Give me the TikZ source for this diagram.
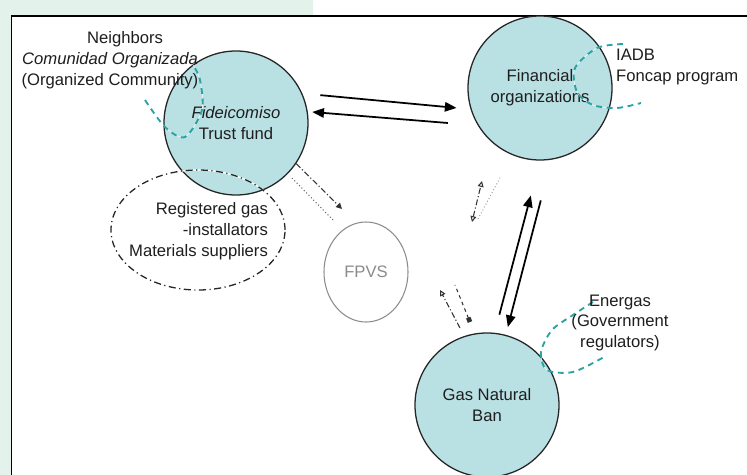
\documentclass[tikz,border=0pt]{standalone}
\usepackage{fontspec}
\setmainfont{Liberation Sans}
\usetikzlibrary{arrows.meta}
\usetikzlibrary{shapes.geometric}

\definecolor{fundfill}{HTML}{B9E0E3}
\definecolor{loopteal}{HTML}{2BA3A3}
\definecolor{mint}{HTML}{E3F3EC}
\definecolor{inkgray}{HTML}{1E1E1E}

\begin{document}
\begin{tikzpicture}[x=0.03cm, y=-0.03cm,
    every node/.style={font=\fontsize{14.2pt}{17.9pt}\selectfont, text=inkgray},
    actor/.style={circle, draw=black!85, line width=1.1pt, fill=fundfill, minimum size=4.32cm, align=center, inner sep=0pt},
    flow/.style={line width=1.5pt, -{Triangle[length=10pt,width=8pt]}},
    faint/.style={black!80, line width=0.9pt, dash pattern=on 5pt off 2pt on 1pt off 2pt},
    loop/.style={loopteal, line width=1.6pt, dash pattern=on 5pt off 4pt, preaction={draw=white, solid}}
]
        \useasboundingbox (0,0) rectangle (747,475);
        \fill[white] (0,0) rectangle (747,475);
        \fill[mint] (0,0) rectangle (313,15) (0,15) rectangle (11,475);
        \draw[line width=1.7pt] (11.5,475) -- (11.5,16) -- (747,16);

        % Nodes
        \node[actor] (trust) at (236,123) {\textit{Fideicomiso}\\Trust fund};
        \node[actor] (fin) at (540,88) {Financial\\organizations};
        \node[actor] (gas) at (487,405) {Gas Natural\\Ban};
        \node[ellipse, draw=black!45, line width=0.9pt, minimum width=2.52cm, minimum height=3cm, text=black!45] (fpvs) at (366,272) {FPVS};
        \node[ellipse, draw=black!85, line width=1.1pt, minimum width=5.22cm, minimum height=3.6cm,
              dash pattern=on 6pt off 3pt on 1pt off 3pt, preaction={draw=white, solid}] (suppl) at (198,230) {};

        % Edges
        \draw[flow, shorten <=0.54cm, shorten >=0.42cm] (trust.24) -- (fin.197);
        \draw[flow, shorten <=0.9cm, shorten >=0.135cm] (fin.211) -- (trust.9);
        \draw[flow, shorten <=0.56cm, shorten >=1.08cm] (gas.84) -- (fin.270);
        \draw[flow, shorten <=1.26cm, shorten >=0.24cm] (fin.279) -- (gas.75);

        % Broken links
        \coordinate (tf-tip) at (342,209);
        \coordinate (dt-a) at (292,178);
        \coordinate (dt-b) at (333,220);
        \coordinate (fn-a) at (472,222);
        \coordinate (fn-b) at (482,181);
        \coordinate (fd-a) at (478,219);
        \coordinate (fd-b) at (501,176);
        \coordinate (gs-a) at (460,328);
        \coordinate (gs-b) at (440,290);
        \coordinate (gd-a) at (470,322);
        \coordinate (gd-b) at (455,285);
        \draw[faint, -{Triangle[length=5pt,width=5pt]}] (trust.326) -- (tf-tip);
        \draw[black!60, line width=0.9pt, dotted] (dt-a) -- (dt-b);
        \draw[faint, {Triangle[open,length=5pt,width=5pt]}-{Triangle[open,length=5pt,width=5pt]}] (fn-a) -- (fn-b);
        \draw[black!40, line width=0.8pt, dotted] (fd-a) -- (fd-b);
        \draw[faint, -{Triangle[open,length=5pt,width=5pt]}] (gs-a) -- (gs-b);
        \draw[black!80, line width=0.9pt, dashed, {Square[length=4pt]}-] (gd-a) -- (gd-b);

        % Loops
        \draw[loop] plot[smooth] coordinates {(145,100) (165,127) (185,137) (202,110) (200,80) (193,65)};
        \draw[loop] plot[smooth] coordinates {(623,44) (597,48) (575,68) (577,92) (593,105) (617,108) (641,103)};
        \draw[loop] plot[smooth] coordinates {(593,302) (573,315) (552,330) (541,352) (547,370) (573,372) (604,357)};

        % Labels
        \node[align=center] (nbr) at (110,60) {\hspace*{0.9cm}Neighbors\\\textit{Comunidad Organizada}\\(Organized Community)};
        \node[align=right, anchor=east] (supplabel) at (272,231) {Registered gas\\-installators\\Materials suppliers};
        \node[align=left, anchor=west] (iadb) at (612,67) {IADB\\Foncap program};
        \node[align=center] (energas) at (620,323) {Energas\\(Government\\regulators)};
    \end{tikzpicture}
\end{document}
